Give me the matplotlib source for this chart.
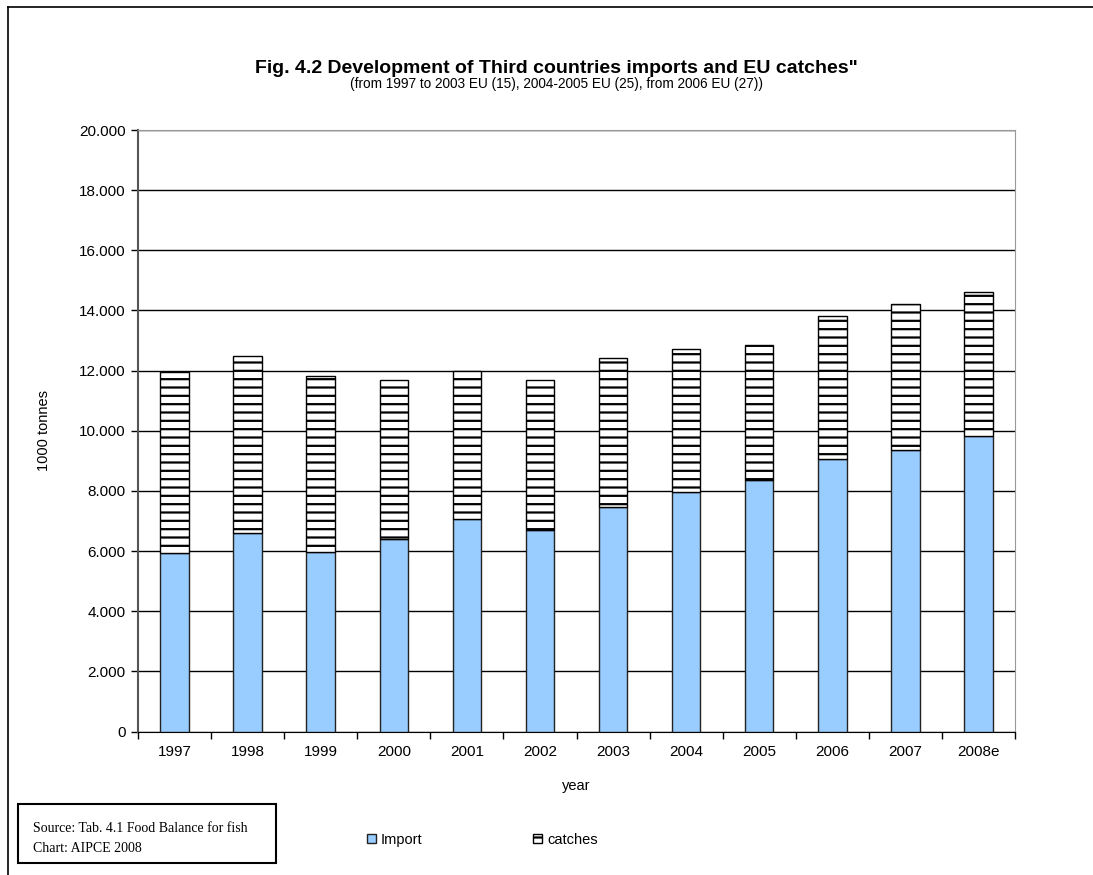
import numpy as np
import matplotlib
matplotlib.use("Agg")
import matplotlib.pyplot as plt
import matplotlib.patches as mpatches
from matplotlib.ticker import FuncFormatter

years = ["1997", "1998", "1999", "2000", "2001", "2002",
         "2003", "2004", "2005", "2006", "2007", "2008e"]
imports = [5930, 6610, 5960, 6400, 7060, 6700, 7460, 7980, 8350, 9060, 9360, 9840]
catches = [6020, 5860, 5850, 5290, 4940, 4990, 4960, 4750, 4500, 4760, 4850, 4760]
y_ticks = list(range(0, 20001, 2000))

plt.rcParams["font.family"] = ["Liberation Sans", "DejaVu Sans"]
plt.rcParams["hatch.linewidth"] = 1.6

fig = plt.figure(figsize=(10.93, 8.75), dpi=100)
ax = fig.add_axes([0.1263, 0.164, 0.8023, 0.6874])

x = np.arange(len(years))
ax.bar(x, imports, width=0.39, color="#99CCFF", edgecolor="#222222", lw=1.0,
       label="Import", zorder=3)
ax.bar(x, catches, bottom=imports, width=0.39, color="white", edgecolor="black",
       hatch="--", lw=1.0, label="catches", zorder=3)

ax.set_xlim(-0.5, len(years) - 0.5)
ax.set_ylim(0, 20000)
ax.set_yticks(y_ticks)
ax.yaxis.set_major_formatter(FuncFormatter(lambda v, p: f"{int(v):,}".replace(",", ".")))
ax.set_xticks(x)
ax.set_xticklabels(years)
ax.set_xticks(np.arange(-0.5, len(years)), minor=True)
ax.tick_params(axis="x", which="major", length=0, pad=10, labelsize=11)
ax.tick_params(axis="x", which="minor", length=5, width=1, color="black")
ax.tick_params(axis="y", length=5, width=1, labelsize=11, pad=4)
ax.grid(axis="y", color="black", lw=1.0, zorder=0)
ax.set_axisbelow(True)

for side in ["top", "right"]:
    ax.spines[side].set_color("#999999")
ax.spines["left"].set_color("#555555")
ax.spines["left"].set_linewidth(1.5)
ax.spines["bottom"].set_color("black")

ax.set_xlabel("year", fontsize=10.5, labelpad=14)
ax.set_ylabel("1000 tonnes", fontsize=10.5, labelpad=20)

fig.text(0.509, 0.922, "Fig. 4.2 Development of Third countries imports and EU catches\"",
         ha="center", va="center", fontsize=14, fontweight="bold")
fig.text(0.509, 0.904, "(from 1997 to 2003 EU (15), 2004-2005 EU (25), from 2006 EU (27))",
         ha="center", va="center", fontsize=9.8)

# outer chart frame (top and left visible)
fig.add_artist(plt.Line2D([0.0073, 1.0], [0.992, 0.992], color="black", lw=1.2,
                          transform=fig.transFigure))
fig.add_artist(plt.Line2D([0.0073, 0.0073], [0.0, 0.992], color="black", lw=1.2,
                          transform=fig.transFigure))

# source box
fig.add_artist(mpatches.Rectangle((18 / 1093, 1 - 863 / 875), 258 / 1093, 59 / 875,
                                  transform=fig.transFigure, fill=False,
                                  edgecolor="black", lw=1.5))
fig.text(33 / 1093, 1 - 828 / 875, "Source: Tab. 4.1 Food Balance for fish",
         family="Liberation Serif", fontsize=10, va="center")
fig.text(33 / 1093, 1 - 849 / 875, "Chart: AIPCE 2008",
         family="Liberation Serif", fontsize=10, va="center")

handles = [mpatches.Patch(facecolor="#99CCFF", edgecolor="#222222", label="Import"),
           mpatches.Patch(facecolor="white", edgecolor="black", hatch="--", label="catches")]
fig.legend(handles=handles, loc="center left", bbox_to_anchor=(367 / 1093, 1 - 840 / 875),
           ncol=2, frameon=False, fontsize=10.5, handlelength=0.6, handleheight=0.6,
           handletextpad=0.35, columnspacing=7.6, borderpad=0, borderaxespad=0)

fig.savefig("out.png", dpi=100)
